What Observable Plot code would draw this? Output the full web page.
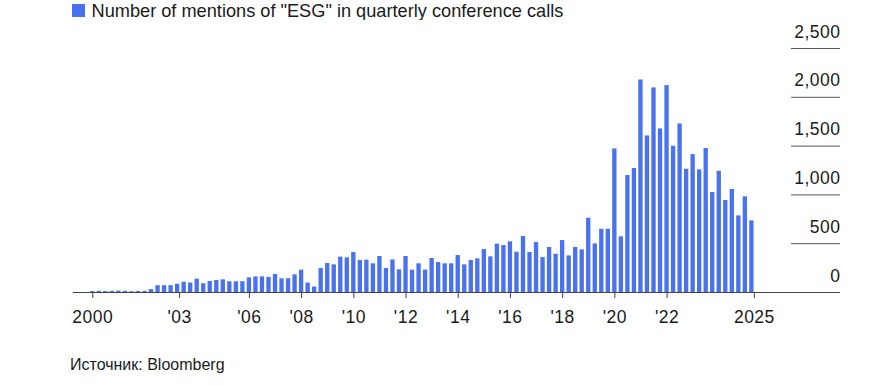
<!DOCTYPE html>
<html>
<head>
<meta charset="utf-8">
<script src="https://cdn.jsdelivr.net/npm/d3@7"></script>
<script src="https://cdn.jsdelivr.net/npm/@observablehq/plot@0.6"></script>
<style>
  html, body { margin: 0; padding: 0; background: #ffffff; }
  body { font-family: "Liberation Sans", Arial, Helvetica, sans-serif; color: #1a1a1a; }
  #wrap { position: relative; width: 870px; height: 385px; overflow: hidden; }
  #legend { position: absolute; left: 72px; top: 1px; height: 20px; line-height: 20px; font-size: 18.2px; white-space: nowrap; }
  #legend .sw { position: absolute; left: 0; top: 3px; width: 12.5px; height: 12.5px; }
  #legend .lb { position: absolute; left: 19.5px; top: 0; }
  #chart { position: absolute; left: 0; top: 20px; }
  #chart svg text { letter-spacing: 0.5px; }
  #source { position: absolute; left: 70px; top: 355px; font-size: 16px; line-height: 20px; white-space: nowrap; }
</style>
</head>
<body>
<div id="wrap">
  <div id="legend"><span class="sw"></span><span class="lb"></span></div>
  <div id="chart"></div>
  <div id="source"></div>
</div>
<script>
// ---- data ----
const firstYear = 2000;               // first quarter shown: 2000 Q1
const legendLabel = 'Number of mentions of "ESG" in quarterly conference calls';
const sourceLabel = "Источник: Bloomberg";
// quarterly mentions, 2000 Q1 .. 2025 Q2
const mentions = [
  10, 12, 10, 12, 14, 12, 8, 10,          // 2000-2001
  12, 30, 70, 70,                         // 2002
  70, 85, 105, 97,                        // 2003
  137, 90, 113, 122,                      // 2004
  130, 110, 110, 111,                     // 2005
  150, 160, 160, 155,                     // 2006
  184, 140, 141, 181,                     // 2007
  229, 97, 56, 246,                       // 2008
  297, 283, 362, 355,                     // 2009
  410, 328, 331, 294,                     // 2010
  369, 246, 334, 232,                     // 2011
  369, 229, 294, 229,                     // 2012
  348, 307, 294, 294,                     // 2013
  379, 283, 328, 345,                     // 2014
  440, 365, 495, 481,                     // 2015
  519, 413, 573, 410,                     // 2016
  512, 358, 461, 392,                     // 2017
  532, 375, 461, 437,                     // 2018
  761, 498, 648, 648,                     // 2019
  1471, 570, 1198, 1270,                  // 2020
  2178, 1604, 2096, 1676,                 // 2021
  2120, 1498, 1727, 1263,                 // 2022
  1413, 1256, 1475, 1024,                 // 2023
  1242, 942, 1055, 785,                   // 2024
  980, 734                                // 2025
];
const yTicks = [0, 500, 1000, 1500, 2000, 2500];
const xTicks = [2000.125, 2003.45, 2006.125, 2008.125, 2010.125, 2012.125, 2014.125, 2016.125, 2018.125, 2020.125, 2022.125, 2025.47];
const xTickLabels = ["2000", "'03", "'06", "'08", "'10", "'12", "'14", "'16", "'18", "'20", "'22", "2025"];

// ---- build ----
const barColor = "#4a72ee";
const quarterStart = mentions.map((_, i) => firstYear + i / 4);
const table = mentions.map((v, i) => ({t: quarterStart[i], v}));
const xLabelMap = new Map(xTicks.map((t, i) => [t, xTickLabels[i]]));
const fmt = d3.format(",");

document.querySelector("#legend .sw").style.background = barColor;
document.querySelector("#legend .lb").textContent = legendLabel;
document.querySelector("#source").textContent = sourceLabel;

const chart = Plot.plot({
  width: 870,
  height: 325,
  marginTop: 28,
  marginBottom: 53,
  marginLeft: 73,
  marginRight: 30,
  style: {fontFamily: '"Liberation Sans", Arial, Helvetica, sans-serif', fontSize: "17.5px", color: "#1a1a1a", background: "#ffffff"},
  x: {type: "linear", domain: [1999.386, 2028.77], label: null},
  y: {domain: [0, 2500], label: null},
  marks: [
    Plot.rectY(table, {x: "t", y: "v", interval: 0.25, fill: barColor, insetLeft: 1.1, insetRight: 1.1}),
    Plot.ruleY(yTicks.filter(d => d > 0), {stroke: "#555555", strokeWidth: 1, insetLeft: 718}),
    Plot.text(yTicks, {y: d => d, text: d => fmt(d), frameAnchor: "right", textAnchor: "end", dy: -16.5, fontSize: 17.5, fill: "#1a1a1a"}),
    Plot.ruleY([0], {stroke: "#444444", strokeWidth: 1.2}),
    Plot.axisX({ticks: xTicks, tickFormat: d => xLabelMap.get(d), tickSize: 6, tickPadding: 12.5, stroke: "#444444", fontSize: 17.5, label: null}),
    Plot.axisY({ticks: [], label: null})
  ]
});
document.getElementById("chart").appendChild(chart);
</script>
</body>
</html>
